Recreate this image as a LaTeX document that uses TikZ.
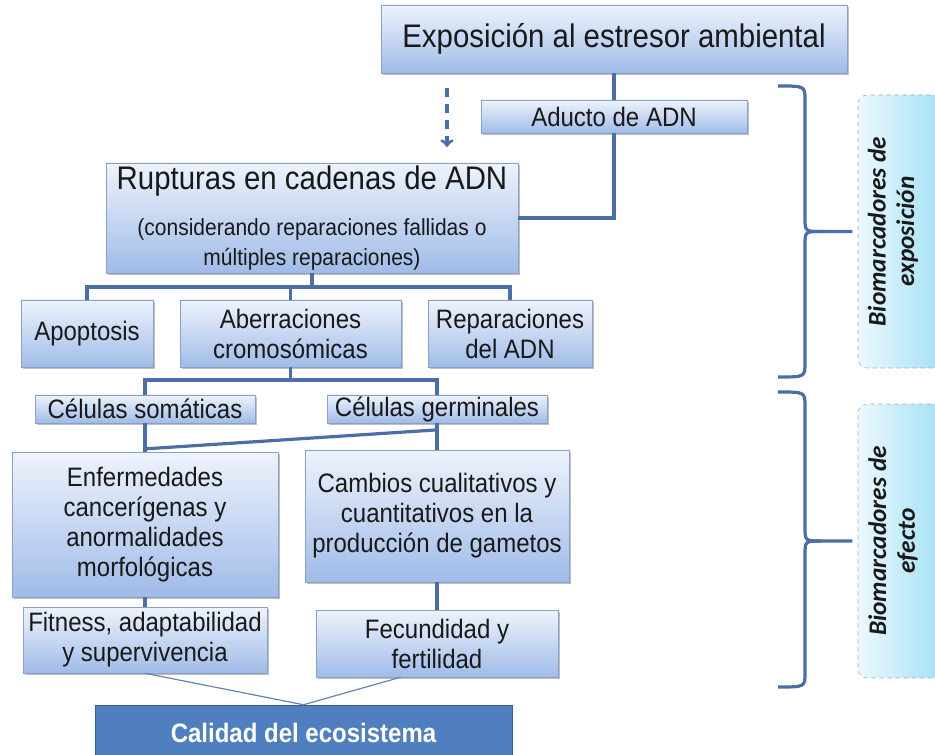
\documentclass[tikz,border=0pt]{standalone}
\usepackage{fontspec}
\setmainfont{Liberation Sans}[FakeStretch=0.9]
\newfontfamily\labelfont{Carlito}
\usetikzlibrary{calc,shadows}

\definecolor{linkblue}{RGB}{74,110,165}
\definecolor{boxtop}{RGB}{238,243,252}
\definecolor{boxbot}{RGB}{160,187,232}
\definecolor{boxedge}{RGB}{138,160,198}
\definecolor{calfill}{RGB}{79,127,190}
\definecolor{caledge}{RGB}{56,93,140}
\definecolor{lableft}{RGB}{236,249,254}
\definecolor{labright}{RGB}{158,222,245}
\definecolor{textdark}{RGB}{25,25,25}

\newcommand{\subsize}{\fontsize{17.5}{21}\selectfont}

\tikzset{
  bluebox/.style={draw=boxedge, top color=boxtop, bottom color=boxbot, align=center,
    text=textdark, inner sep=1pt,
    drop shadow={shadow xshift=1.5pt, shadow yshift=-1.5pt, fill=black, opacity=0.25}},
  sz/.style 2 args={minimum width=#1*0.75pt, minimum height=#2*0.75pt},
  link/.style={draw=linkblue, line width=2.4pt},
  thinlink/.style={draw=linkblue!85, line width=0.9pt},
  brace/.style={draw=linkblue, line width=2.4pt, line join=round},
  labbox/.style={draw=gray!70, dashed, rounded corners=7pt, left color=lableft, right color=labright},
  labtext/.style={rotate=90, align=center, text=textdark,
    font=\labelfont\bfseries\itshape\fontsize{19}{21.5}\selectfont}
}

\begin{document}
\begin{tikzpicture}[x=0.75pt, y=-0.75pt, font=\fontsize{20}{22.5}\selectfont]
    \useasboundingbox (0,0) rectangle (935,755);

    % Exposure and DNA damage
    \node[bluebox, sz={466}{68}, font=\fontsize{24.5}{28}\selectfont] (expo) at (614,39) {Exposición al estresor ambiental};
    \node[bluebox, sz={266}{33}] (aducto) at (614,116.5) {Aducto de ADN};
    \node[bluebox, sz={412}{110}] (rupt) at (312,218)
        {{\fontsize{24.5}{28}\selectfont Rupturas en cadenas de ADN}\\[12pt]
         {\subsize (considerando reparaciones fallidas o}\\{\subsize múltiples reparaciones)}};

    % Outcomes of the breaks
    \node[bluebox, sz={132}{67}] (apop) at (87,333.5) {Apoptosis};
    \node[bluebox, sz={221}{67}] (aber) at (290.5,333.5) {Aberraciones\\cromosómicas};
    \node[bluebox, sz={164}{67}] (repar) at (510,333.5) {Reparaciones\\del ADN};

    % Cell types
    \node[bluebox, sz={220}{28}] (soma) at (145,409) {Células somáticas};
    \node[bluebox, sz={220}{28}] (germ) at (437,409) {Células germinales};

    % Effects
    \node[bluebox, sz={266}{145}] (enfer) at (145,524.5) {Enfermedades\\cancerígenas y\\anormalidades\\morfológicas};
    \node[bluebox, sz={264}{132}] (camb) at (437,516) {Cambios cualitativos y\\cuantitativos en la\\producción de gametos};
    \node[bluebox, sz={244}{66}] (fitn) at (145,640) {Fitness, adaptabilidad\\y supervivencia};
    \node[bluebox, sz={242}{67}] (fecu) at (437,643.5) {Fecundidad y\\fertilidad};

    % Ecosystem
    \node[draw=caledge, fill=calfill, text=white, sz={417}{56},
          font=\bfseries\fontsize{20}{22}\selectfont] (cal) at (303.5,733) {Calidad del ecosistema};

    % Marker labels on the right
    \node[labbox, sz={90}{273}] (labA) at (903,231.5) {};
    \node[labtext] (labAtext) at (893,231.5) {Biomarcadores de\\exposición};
    \node[labbox, sz={90}{274}] (labB) at (903,541) {};
    \node[labtext] (labBtext) at (893,541) {Biomarcadores de\\efecto};

    % Connectors
    \coordinate (dashtop) at (447,88);
    \coordinate (dashend) at (447,147);
    \draw[link, dash pattern=on 7pt off 5pt, ->] (dashtop) -- (dashend);
    \draw[link] (expo.south) -- (aducto.north);
    \draw[link] (aducto.south) |- (rupt.east);

    \coordinate (busA) at (rupt.south |- 0,287);
    \draw[link] (rupt.south) -- (busA);
    \draw[link] (apop.north) |- (busA) -| (repar.north);
    \draw[link] (aber.north) -- (aber.north |- busA);

    \coordinate (busB) at (aber.south |- 0,380);
    \draw[link] (aber.south) -- (busB);
    \draw[link] (soma.north) |- (busB) -| (germ.north);

    \draw[link] (soma.south) -- (enfer.north);
    \draw[link] (germ.south) -- (camb.north);
    \draw[link] ($(germ.south)!0.25!(camb.north)$) -- ($(soma.south)!0.9!(enfer.north)$);
    \draw[link] (enfer.south) -- (fitn.north);
    \draw[link] (camb.south) -- (fecu.north);

    \draw[thinlink] (fitn.south) -- (cal.north);
    \draw[thinlink] ($(fecu.south west)!0.35!(fecu.south east)$) -- (cal.north);

    % Braces
    \draw[brace] (778,86) .. controls (805,86) .. (805,100) -- (805,218)
        .. controls (805,231.5) .. (822,231.5) -- ([xshift=-4pt]labA.west);
    \draw[brace] (822,231.5) .. controls (805,231.5) .. (805,245) -- (805,363)
        .. controls (805,377) .. (778,377);
    \draw[brace] (778,392) .. controls (805,392) .. (805,406) -- (805,527)
        .. controls (805,541) .. (822,541) -- ([xshift=-4pt]labB.west);
    \draw[brace] (822,541) .. controls (805,541) .. (805,555) -- (805,673)
        .. controls (805,687) .. (778,687);

\end{tikzpicture}
\end{document}
